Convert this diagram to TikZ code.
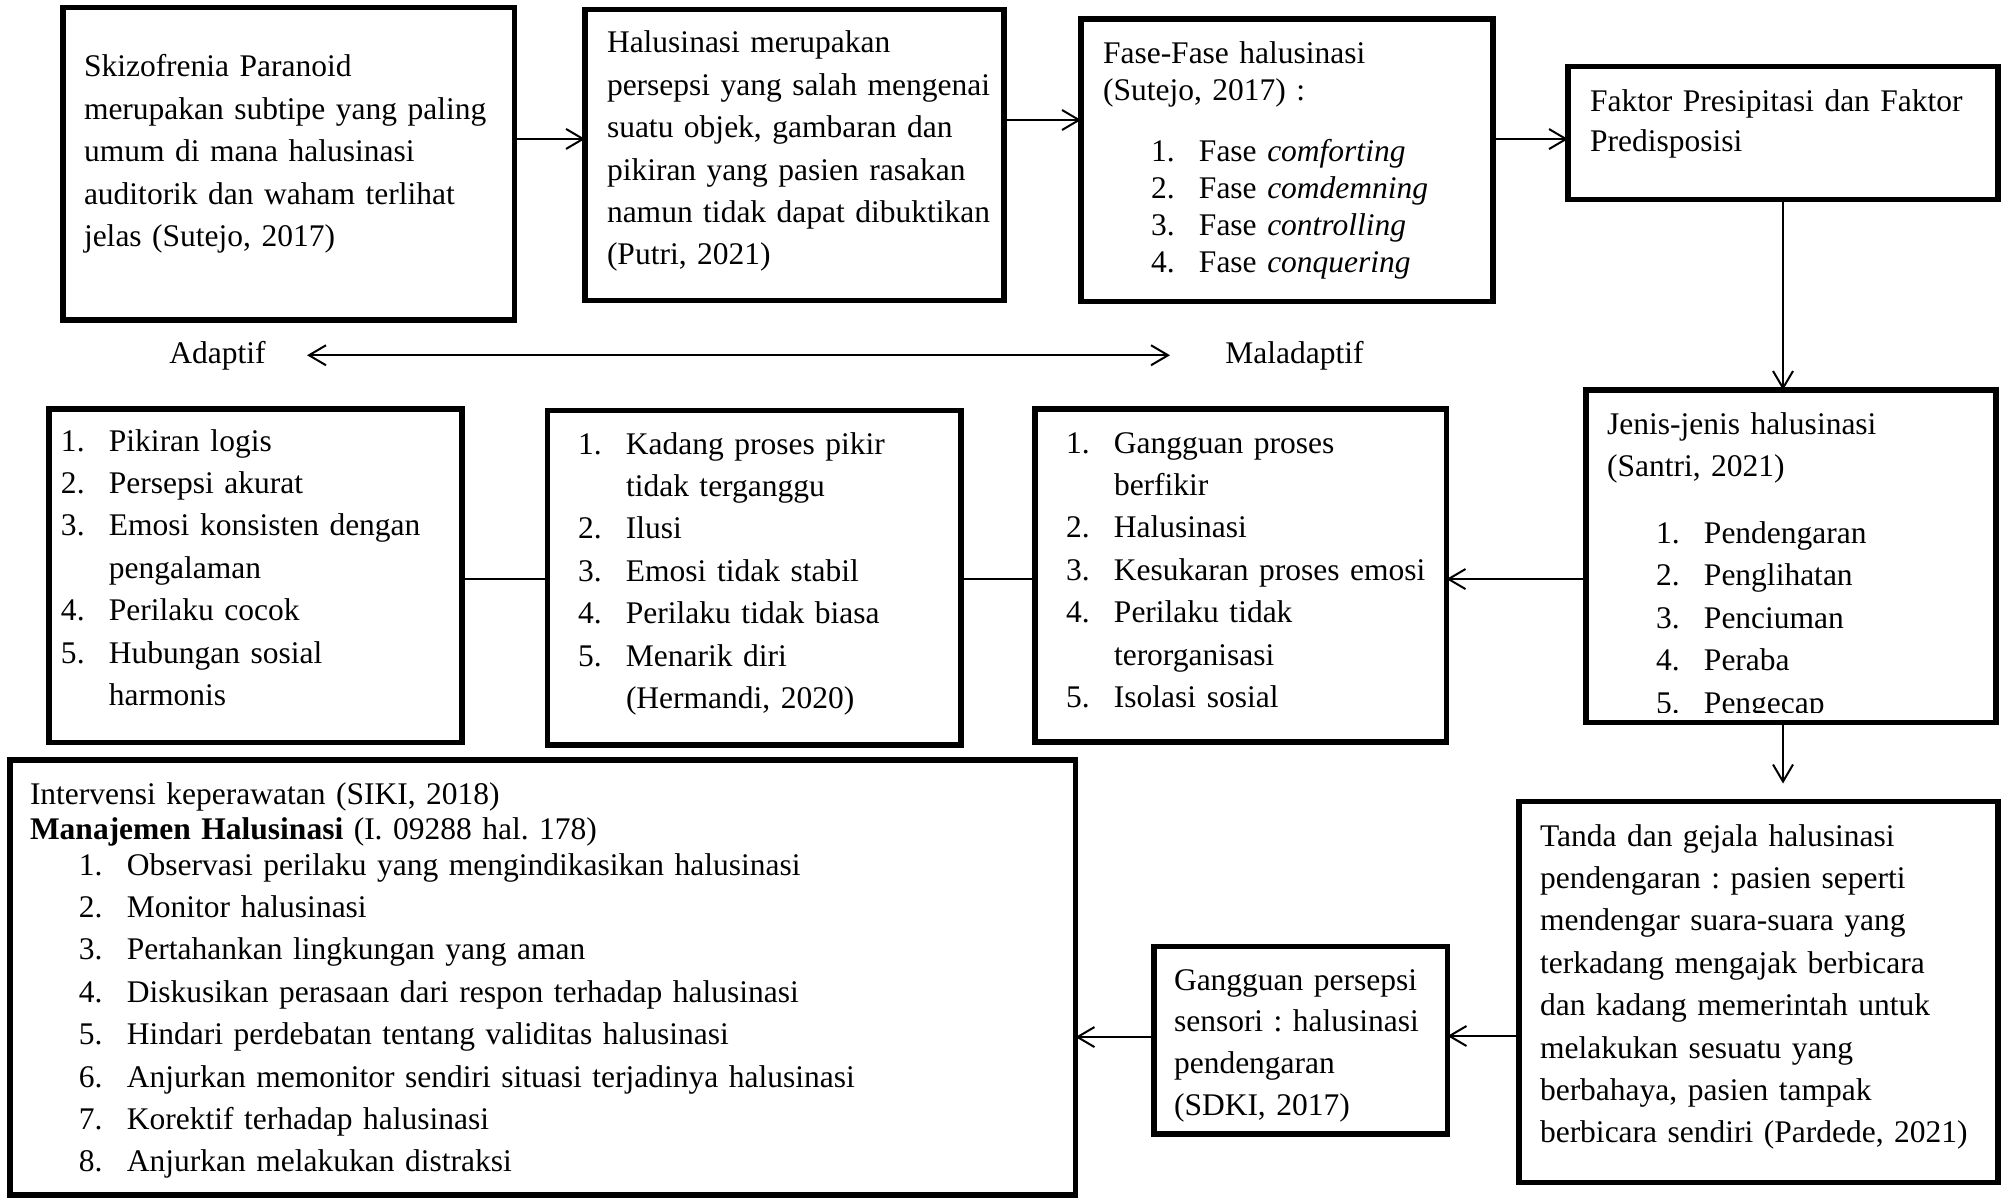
\documentclass[tikz,border=0pt]{standalone}
\usepackage{fontspec}
\setmainfont{Liberation Serif}
\usetikzlibrary{arrows.meta}
\frenchspacing
\hyphenpenalty=10000
\exhyphenpenalty=10000

% nomor butir dan baris lanjutan
\newcommand{\nr}[1]{\makebox[24pt][l]{#1}}
\newcommand{\cont}{\hspace*{24pt}}

\begin{document}
\begin{tikzpicture}[x=0.5pt, y=-0.5pt, >={Straight Barb[length=8.5pt, width=10pt]},
        font=\fontsize{15.75pt}{21.2pt}\selectfont,
        box/.style={draw, line width=2.6pt, anchor=north west, align=left, inner ysep=0pt, outer sep=0pt},
        lbl/.style={inner sep=0pt, anchor=base west},
        arr/.style={->, line width=1pt},
        ln/.style={line width=1pt}]
    \useasboundingbox (0,0) rectangle (2007,1198);
    % baris atas
    \node[box, text width=204.75pt, inner xsep=10.5pt, text height=34.75pt, text depth=121.5pt] (skz) at (63,7.5)
        {Skizofrenia Paranoid\\merupakan subtipe yang paling\\umum di mana halusinasi\\auditorik dan waham terlihat\\jelas (Sutejo, 2017)};
    \node[box, text width=199.5pt, inner xsep=5pt, text height=21.75pt, text depth=123.75pt] (hal) at (585,9.5)
        {\leftskip=6pt\relax Halusinasi merupakan\\persepsi yang salah mengenai\\suatu objek, gambaran dan\\pikiran yang pasien rasakan\\namun tidak dapat dibuktikan\\(Putri, 2021)\par};
    \node[box, font=\fontsize{15.75pt}{18.5pt}\selectfont, text width=184pt, inner xsep=11pt, text height=22.5pt, text depth=118.75pt] (fase) at (1081,19)
        {Fase-Fase halusinasi\\(Sutejo, 2017) :\\[12pt]
         \hspace*{24pt}\nr{1.}Fase \textit{comforting}\\
         \hspace*{24pt}\nr{2.}Fase \textit{comdemning}\\
         \hspace*{24pt}\nr{3.}Fase \textit{controlling}\\
         \hspace*{24pt}\nr{4.}Fase \textit{conquering}};
    \node[box, font=\fontsize{15.75pt}{20pt}\selectfont, text width=193pt, inner xsep=11pt, text height=22.75pt, text depth=43.75pt] (fak) at (1568,66.5)
        {Faktor Presipitasi dan Faktor\\Predisposisi};
    % rentang respons
    \node[lbl] (adaptif) at (169,363) {Adaptif};
    \node[lbl] (maladaptif) at (1225,363) {Maladaptif};
    % baris tengah
    \node[box, text width=184pt, inner xsep=10.5pt, text height=22pt, text depth=144.25pt] (jns) at (1586,390)
        {Jenis-jenis halusinasi\\(Santri, 2021)\\[12.3pt]
         \hspace*{24.5pt}\nr{1.}Pendengaran\\
         \hspace*{24.5pt}\nr{2.}Penglihatan\\
         \hspace*{24.5pt}\nr{3.}Penciuman\\
         \hspace*{24.5pt}\nr{4.}Peraba\\
         \hspace*{24.5pt}\nr{5.}Pengecap};
    \fill[white] ([xshift=2pt, yshift=1.5pt]jns.south west) rectangle ([xshift=-2pt, yshift=4.6pt]jns.south east);
    \node[box, text width=194.5pt, inner xsep=6pt, text height=21pt, text depth=145.75pt] (adp) at (49,409)
        {\nr{1.}Pikiran logis\\ \nr{2.}Persepsi akurat\\ \nr{3.}Emosi konsisten dengan\\ \cont pengalaman\\
         \nr{4.}Perilaku cocok\\ \nr{5.}Hubungan sosial\\ \cont harmonis};
    \node[box, text width=186.75pt, inner xsep=10pt, text height=21.75pt, text depth=145.5pt] (mid) at (547.5,410.5)
        {\leftskip=5.25pt\relax \nr{1.}Kadang proses pikir\\ \cont tidak terganggu\\ \nr{2.}Ilusi\\ \nr{3.}Emosi tidak stabil\\
         \nr{4.}Perilaku tidak biasa\\ \nr{5.}Menarik diri\\ \cont (Hermandi, 2020)\par};
    \node[box, text width=189.75pt, inner xsep=8pt, text height=22pt, text depth=144.5pt] (mal) at (1035,409)
        {\leftskip=7.5pt\relax \nr{1.}Gangguan proses\\ \cont berfikir\\ \nr{2.}Halusinasi\\ \nr{3.}Kesukaran proses emosi\\
         \nr{4.}Perilaku tidak\\ \cont terorganisasi\\ \nr{5.}Isolasi sosial\par};
    % baris bawah
    \node[box, text width=218.5pt, inner xsep=10.5pt, text height=22.25pt, text depth=168.25pt] (tdg) at (1519,801.5)
        {Tanda dan gejala halusinasi\\pendengaran : pasien seperti\\mendengar suara-suara yang\\terkadang mengajak berbicara\\
         dan kadang memerintah untuk\\melakukan sesuatu yang\\berbahaya, pasien tampak\\berbicara sendiri (Pardede, 2021)};
    \node[box, font=\fontsize{15.75pt}{20.9pt}\selectfont, text width=126.75pt, inner xsep=10pt, text height=21.75pt, text depth=72pt] (gps) at (1154,946.5)
        {Gangguan persepsi\\sensori : halusinasi\\pendengaran\\(SDKI, 2017)};
    \node[box, text width=512.75pt, inner xsep=10pt, text height=22pt, text depth=195.5pt] (itv) at (10,760)
        {Intervensi keperawatan (SIKI, 2018)\\[-3.7pt]
         \textbf{Manajemen Halusinasi} (I. 09288 hal. 178)\\[-3.2pt]
         \hspace*{24.5pt}\nr{1.}Observasi perilaku yang mengindikasikan halusinasi\\
         \hspace*{24.5pt}\nr{2.}Monitor halusinasi\\
         \hspace*{24.5pt}\nr{3.}Pertahankan lingkungan yang aman\\
         \hspace*{24.5pt}\nr{4.}Diskusikan perasaan dari respon terhadap halusinasi\\
         \hspace*{24.5pt}\nr{5.}Hindari perdebatan tentang validitas halusinasi\\
         \hspace*{24.5pt}\nr{6.}Anjurkan memonitor sendiri situasi terjadinya halusinasi\\
         \hspace*{24.5pt}\nr{7.}Korektif terhadap halusinasi\\
         \hspace*{24.5pt}\nr{8.}Anjurkan melakukan distraksi};
    % panah
    \draw[arr] ([yshift=12.4pt]skz.east) coordinate (s1) -- (s1 -| hal.west);
    \draw[arr] ([yshift=17.5pt]hal.east) coordinate (s2) -- (s2 -| fase.west);
    \draw[arr] ([yshift=10.6pt]fase.east) coordinate (s3) -- (s3 -| fak.west);
    \draw[arr] (fak.south) -- (fak.south |- jns.north);
    \draw[arr, shorten >=9pt] (fak.south |- jns.south) -- (fak.south |- tdg.north);
    \draw[arr] ([yshift=-11.4pt]jns.west) coordinate (s5) -- (s5 -| mal.east);
    \draw[ln] (s5 -| mal.west) -- (s5 -| mid.east);
    \draw[ln] (s5 -| mid.west) -- (s5 -| adp.east);
    \draw[<->, ln, shorten <=20.5pt, shorten >=27.5pt] (adaptif) -- (maladaptif);
    \draw[arr] ([yshift=-22pt]tdg.west) coordinate (s6) -- (s6 -| gps.east);
    \draw[arr] ([yshift=1.6pt]gps.west) coordinate (s7) -- (s7 -| itv.east);
\end{tikzpicture}
\end{document}
